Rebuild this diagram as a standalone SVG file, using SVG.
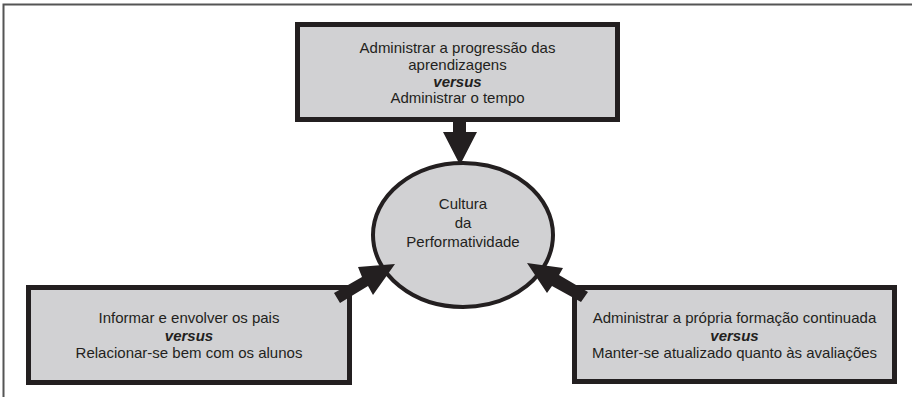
<svg xmlns="http://www.w3.org/2000/svg" width="912" height="397" viewBox="0 0 912 397">
<style>
.box{fill:#d1d1d3;stroke:#231f20;stroke-width:5}
.circ{fill:#d1d1d3;stroke:#231f20;stroke-width:4}
.t{font-family:"Liberation Sans",Arial,sans-serif;font-size:15px;fill:#231f20;text-anchor:middle}
.b{font-weight:bold;font-style:italic}
.arr{fill:#231f20;stroke:none}
.frame{stroke:#555;stroke-width:2;fill:none}
</style>
<rect width="912" height="397" fill="#fff"/>
<path class="frame" d="M3.5 397 V4.5 H912"/>
<g id="top-box">
<rect class="box" x="297.5" y="24.5" width="320" height="95"/>
<text class="t" x="457.5" y="53">Administrar a progressão das</text>
<text class="t" x="457.5" y="70">aprendizagens</text>
<text class="t b" x="457.5" y="87">versus</text>
<text class="t" x="457.5" y="103">Administrar o tempo</text>
</g>
<g id="center">
<ellipse class="circ" cx="463" cy="235" rx="90" ry="72"/>
<text class="t" x="463" y="209">Cultura</text>
<text class="t" x="463" y="228">da</text>
<text class="t" x="463" y="247">Performatividade</text>
</g>
<g id="left-box">
<rect class="box" x="28.5" y="287.5" width="321" height="95"/>
<text class="t" x="189" y="323">Informar e envolver os pais</text>
<text class="t b" x="189" y="341">versus</text>
<text class="t" x="189" y="358">Relacionar-se bem com os alunos</text>
</g>
<g id="right-box">
<rect class="box" x="574.5" y="287.5" width="320" height="94"/>
<text class="t" x="734.5" y="323">Administrar a própria formação continuada</text>
<text class="t b" x="734.5" y="341">versus</text>
<text class="t" x="734.5" y="358">Manter-se atualizado quanto às avaliações</text>
</g>
<g id="connectors">
<polygon class="arr" points="453,121 466,121 466,132 477,132 460,165 443,132 453,132"/>
<polygon class="arr" points="334,293 362,277 358,267 395,264 373,295 368,286 340,303"/>
<polygon class="arr" points="588,292 559,275 563,268 527,263 547,293 552,286 581,302"/>
</g>
</svg>
